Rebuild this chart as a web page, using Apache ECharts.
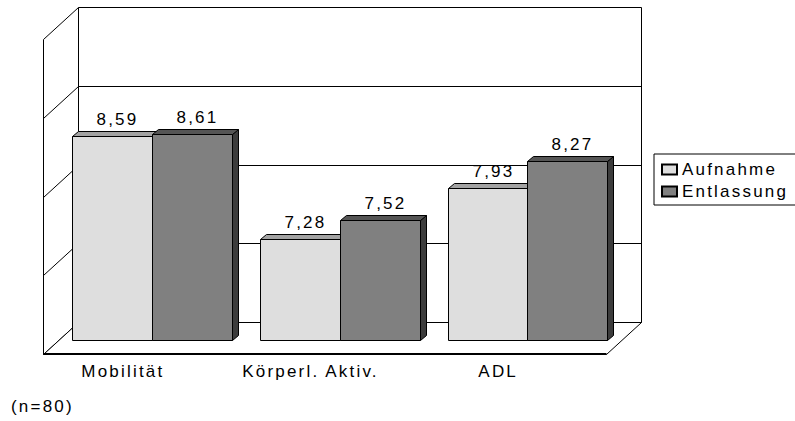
<!DOCTYPE html>
<html>
<head>
<meta charset="utf-8">
<script src="https://cdn.jsdelivr.net/npm/echarts@6/dist/echarts.min.js"></script>
<style>
  html, body { margin: 0; padding: 0; background: #fff; }
  #chart { width: 795px; height: 421px; }
  /* spaced-out lettering used throughout the chart */
  #chart text { letter-spacing: 2.2px; }
</style>
</head>
<body>
<div id="chart"></div>
<script>
// ---- data ----
const categories = ['Mobilität', 'Körperl. Aktiv.', 'ADL'];
const aufnahme = [8.59, 7.28, 7.93];
const entlassung = [8.61, 7.52, 8.27];
const seriesNames = ['Aufnahme', 'Entlassung'];
const yTicks = [6, 7, 8, 9, 10];
const sampleNote = '(n=80)';

// ---- drawing helpers ----
const FONT = '"Liberation Sans", Arial, Helvetica, sans-serif';
const FS = 17;
const BACK = [20, -18];     // shift from the bar plane to the back wall
const FRONT = [-15, 14];    // shift from the bar plane to the front edge
const BAR_DEPTH = [6, -5];  // depth of each bar block
const yMin = yTicks[0];
const yMax = yTicks[yTicks.length - 1];

const fmt = v => v.toFixed(2).replace('.', ',');
const px = v => Math.round(v) + 0.5;

function renderWalls(params, api) {
  const cs = params.coordSys;
  const xl = cs.x, xr = cs.x + cs.width;
  const yb = api.coord([0, yMin])[1];
  const yt = api.coord([0, yMax])[1];
  const thin = { stroke: '#000', lineWidth: 1, fill: null };
  const wall = { fill: '#fff', stroke: '#000', lineWidth: 1 };
  const P = (x, y, off) => [px(x + off[0]), px(y + off[1])];
  const children = [];
  // left side wall
  children.push({ type: 'polygon', shape: { points: [
    P(xl, yb, FRONT), P(xl, yt, FRONT), P(xl, yt, BACK), P(xl, yb, BACK)
  ] }, style: wall });
  // back wall
  children.push({ type: 'polygon', shape: { points: [
    P(xl, yt, BACK), P(xr, yt, BACK), P(xr, yb, BACK), P(xl, yb, BACK)
  ] }, style: wall });
  // floor
  children.push({ type: 'polygon', shape: { points: [
    P(xl, yb, FRONT), P(xr, yb, FRONT), P(xr, yb, BACK), P(xl, yb, BACK)
  ] }, style: wall });
  // heavier front floor edge
  const f1 = P(xl, yb, FRONT), f2 = P(xr, yb, FRONT);
  children.push({ type: 'line', shape: { x1: f1[0], y1: f1[1] - 0.5, x2: f2[0], y2: f2[1] - 0.5 },
    style: { stroke: '#000', lineWidth: 2 } });
  // value gridlines on the back wall and side wall
  yTicks.slice(1, -1).forEach(v => {
    const y = api.coord([0, v])[1];
    const a = P(xl, y, BACK), b = P(xr, y, BACK), c = P(xl, y, FRONT);
    children.push({ type: 'line', shape: { x1: a[0], y1: a[1], x2: b[0], y2: b[1] }, style: thin });
    children.push({ type: 'line', shape: { x1: c[0], y1: c[1], x2: a[0], y2: a[1] }, style: thin });
  });
  return { type: 'group', children };
}

function barRenderer(side, colors) {
  return function (params, api) {
    const cat = api.value(0), val = api.value(1);
    const c = api.coord([cat, val]);
    const base = api.coord([cat, yMin])[1];
    const band = api.size([1, 0])[0];
    const w = band * 0.424;
    const x0 = Math.round(side === 0 ? c[0] - w : c[0]) + 0.5;
    const x1 = Math.round(x0 + w) + 0.5;
    const y0 = Math.round(c[1]) + 0.5;
    const y1 = Math.round(base) + 0.5;
    const dx = BAR_DEPTH[0], dy = BAR_DEPTH[1];
    const edge = { stroke: '#000', lineWidth: 1 };
    return {
      type: 'group',
      children: [
        { type: 'polygon', shape: { points: [[x1, y1], [x1, y0], [x1 + dx, y0 + dy], [x1 + dx, y1 + dy]] },
          style: Object.assign({ fill: colors.side }, edge) },
        { type: 'polygon', shape: { points: [[x0, y0], [x0 + dx, y0 + dy], [x1 + dx, y0 + dy], [x1, y0]] },
          style: Object.assign({ fill: colors.top }, edge) },
        { type: 'rect', shape: { x: x0, y: y0, width: x1 - x0, height: y1 - y0 },
          style: Object.assign({ fill: colors.front }, edge) },
        { type: 'text', style: {
            text: fmt(val), x: (x0 + x1) / 2 + 5, y: y0 - 17,
            align: 'center', verticalAlign: 'middle',
            fontSize: FS, fontFamily: FONT, fill: '#000'
          } }
      ]
    };
  };
}

const chart = echarts.init(document.getElementById('chart'), null, { renderer: 'svg' });

chart.setOption({
  animation: false,
  backgroundColor: '#fff',
  grid: { left: 58, right: 174, top: 25, bottom: 81 },
  xAxis: {
    type: 'category',
    data: categories,
    axisLine: { show: false },
    axisTick: { show: false },
    axisLabel: {
      interval: 0, margin: 23, fontSize: FS, fontFamily: FONT, color: '#000',
      padding: [0, 58, 0, 0]
    }
  },
  yAxis: {
    type: 'value', min: yMin, max: yMax, interval: 1, show: false
  },
  legend: {
    orient: 'vertical',
    left: 654, top: 154,
    padding: [7, 33, 5, 7],
    itemGap: 5,
    itemWidth: 15, itemHeight: 10,
    icon: 'rect',
    borderColor: '#000', borderWidth: 1,
    textStyle: { fontSize: FS, fontFamily: FONT, color: '#000' },
    data: seriesNames
  },
  graphic: [
    { type: 'text', left: 11, top: 398,
      style: { text: sampleNote, fontSize: FS, fontFamily: FONT, fill: '#000' } }
  ],
  series: [
    {
      type: 'custom', name: 'walls', silent: true, clip: false, z: 1,
      renderItem: renderWalls,
      encode: { x: 0, y: 1 },
      data: [[0, yMin]]
    },
    {
      type: 'custom', name: seriesNames[0], clip: false, z: 2,
      renderItem: barRenderer(0, { front: '#dedede', top: '#a3a3a3', side: '#8a8a8a' }),
      itemStyle: { color: '#dedede', borderColor: '#000', borderWidth: 1 },
      encode: { x: 0, y: 1 },
      data: aufnahme.map((v, i) => [i, v])
    },
    {
      type: 'custom', name: seriesNames[1], clip: false, z: 3,
      renderItem: barRenderer(1, { front: '#808080', top: '#555555', side: '#3c3c3c' }),
      itemStyle: { color: '#808080', borderColor: '#000', borderWidth: 1 },
      encode: { x: 0, y: 1 },
      data: entlassung.map((v, i) => [i, v])
    }
  ]
});
</script>
</body>
</html>
